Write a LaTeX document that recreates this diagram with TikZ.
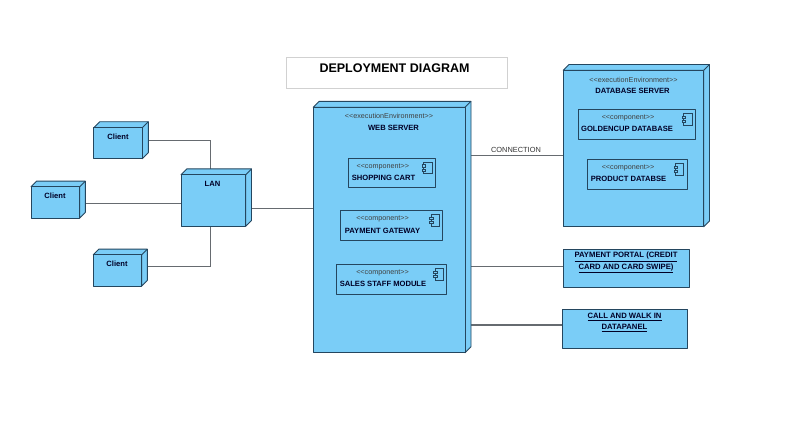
\documentclass[tikz,border=0pt]{standalone}
\usepackage{fontspec}
\setmainfont{Liberation Sans}
\pgfdeclarelayer{back}
\pgfsetlayers{back,main}
\definecolor{nodeblue}{HTML}{7ACDF7}
\definecolor{edgeblue}{HTML}{24465F}
\definecolor{wire}{HTML}{666B70}
\tikzset{
  x=1pt,y=-1pt,
  face/.style={draw=edgeblue,fill=nodeblue,line width=.9pt,line join=round},
  front/.style={face,rectangle,inner sep=0pt,outer sep=0pt},
  caption/.style={font=\fontsize{7.6}{9}\selectfont\bfseries,text=black!85!blue,inner sep=0pt},
  stereo/.style={font=\fontsize{7.2}{8}\selectfont,text=black!75,inner sep=0pt},
  linktext/.style={font=\fontsize{7.7}{11.3}\selectfont\bfseries,text=black!85!blue,inner sep=0pt,align=center},
  wirethin/.style={draw=wire,line width=1pt},
  wirethick/.style={draw=wire,line width=1.7pt},
}
% name, x1, y1, x2, y2, depth
\newcommand{\cube}[6]{%
  \fill[nodeblue,draw=edgeblue,line width=.9pt,line join=round]
    (#2,#3) -- (#2+#6,#3-#6) -- (#4+#6,#3-#6) -- (#4+#6,#5-#6) -- (#4,#5) -- (#4,#3) -- cycle;
  \draw[edgeblue,line width=.9pt] (#4,#3) -- (#4+#6,#3-#6);
  \node[front,minimum width=#4 pt-#2 pt,minimum height=#5 pt-#3 pt] (#1) at ({(#2+#4)/2},{(#3+#5)/2}) {};
}
% name, x1, y1, x2, y2
\newcommand{\component}[5]{%
  \node[front,minimum width=#4 pt-#2 pt,minimum height=#5 pt-#3 pt] (#1) at ({(#2+#4)/2},{(#3+#5)/2}) {};
  \draw[edgeblue,line width=.8pt] (#4-11.7,#3+4) rectangle (#4-3.3,#3+15.5);
  \draw[edgeblue,line width=.8pt,fill=nodeblue] (#4-12.9,#3+6.5) rectangle (#4-9.5,#3+8.8);
  \draw[edgeblue,line width=.8pt,fill=nodeblue] (#4-12.9,#3+10.7) rectangle (#4-9.5,#3+13);
  \node[stereo] at ({(#2+#4)/2-9},#3+8.5) {<{}<component>{}>};
}
\begin{document}
\begin{tikzpicture}
\useasboundingbox (0,0) rectangle (794,442);
\begin{pgfonlayer}{back}
  \fill[white] (0,0) rectangle (794,442);
\end{pgfonlayer}

% title
\node[draw=black!18,line width=.8pt,fill=white,minimum width=221.4pt,minimum height=31pt,inner sep=0pt] (title) at (397,72.8) {};
\node[font=\fontsize{12.5}{14}\selectfont\bfseries,inner sep=0pt] (titletext) at (394.5,68.5) {DEPLOYMENT DIAGRAM};

% clients and LAN
\cube{c1}{93.7}{127.7}{142.3}{158.7}{6}
\cube{c2}{31}{186.7}{79.7}{218}{5.6}
\cube{c3}{93.3}{254.7}{141.7}{286}{5.6}
\cube{lan}{181}{174.7}{245.7}{226.3}{5.8}
\node[caption] (c1t) at (118,136.5) {Client};
\node[caption] (c2t) at (55,196) {Client};
\node[caption] (c3t) at (117,263.5) {Client};
\node[caption] (lant) at (212.5,183.5) {LAN};

% web server
\cube{web}{313.3}{107.3}{465}{352.7}{6}
\node[stereo] (webs) at (389,116) {<{}<executionEnvironment>{}>};
\node[caption] (webt) at (393.5,127.5) {WEB SERVER};
\component{shop}{348.3}{158.3}{435.3}{187}
\node[caption] (shopt) at (383.5,177.5) {SHOPPING CART};
\component{pay}{340.3}{210.7}{442.7}{240.7}
\node[caption] (payt) at (382.5,230.5) {PAYMENT GATEWAY};
\component{sales}{336.3}{264.7}{446.7}{294.3}
\node[caption] (salest) at (383,284) {SALES STAFF MODULE};

% database server
\cube{db}{563.3}{70.3}{703.7}{226.7}{5.8}
\node[stereo] (dbs) at (633.5,80) {<{}<executionEnvironment>{}>};
\node[caption] (dbt) at (632.5,91) {DATABASE SERVER};
\component{gold}{578.7}{109.7}{695.3}{139}
\node[caption] (goldt) at (627,129) {GOLDENCUP DATABASE};
\component{prod}{587}{159.7}{687}{189.3}
\node[caption] (prodt) at (628.5,178.5) {PRODUCT DATABSE};

% right boxes
\node[front,minimum width=125.3pt,minimum height=38pt] (portal) at (626.3,268.3) {};
\node[linktext] (portalt) at (626,262.5) {\underline{PAYMENT PORTAL (CREDIT}\\\underline{CARD AND CARD SWIPE)}};
\node[front,minimum width=125.4pt,minimum height=38.7pt] (call) at (625,328.7) {};
\node[linktext] (callt) at (624.5,322.5) {\underline{CALL AND WALK IN}\\\underline{DATAPANEL}};

\node[font=\fontsize{7.4}{9}\selectfont,text=black!80,inner sep=0pt] (conn) at (516,150) {CONNECTION};

% connector bends and levels
\coordinate (b1) at (210,140);
\coordinate (b3) at (210,266);
\coordinate (l2) at (130,203.3);
\coordinate (l4) at (280,208);
\coordinate (l5) at (520,155.5);
\coordinate (l6) at (520,266);
\coordinate (l7) at (520,324.7);

\begin{pgfonlayer}{back}
  \draw[wirethin] (c1.east|-b1) -- (b1) -- (b1|-lan.north);
  \draw[wirethin] (c2.east|-l2) -- (lan.west|-l2);
  \draw[wirethin] (c3.east|-b3) -- (b3) -- (b3|-lan.south);
  \draw[wirethin] (lan.east|-l4) -- (web.west|-l4);
  \draw[wirethick] (web.east|-l5) -- (db.west|-l5);
  \draw[wirethin] (web.east|-l6) -- (portal.west|-l6);
  \draw[wirethick] (web.east|-l7) -- (call.west|-l7);
\end{pgfonlayer}
\end{tikzpicture}
\end{document}
